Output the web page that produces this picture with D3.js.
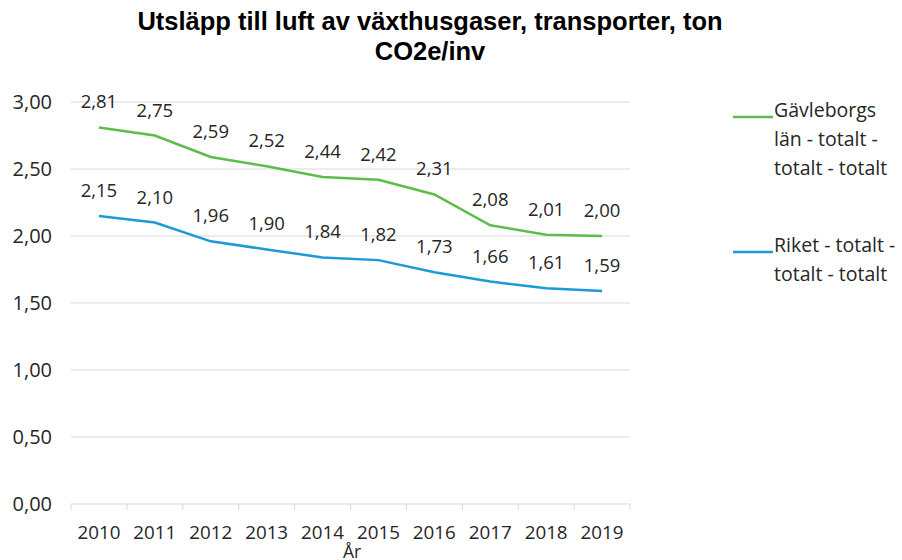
<!DOCTYPE html>
<html>
<head>
<meta charset="utf-8">
<script src="https://cdn.jsdelivr.net/npm/d3@7"></script>
<style>
  body { margin: 0; background: #fff; }
  text { font-family: "Open Sans", sans-serif; fill: #262626; }
</style>
</head>
<body>
<div id="chart"></div>
<script>
const years = ["2010", "2011", "2012", "2013", "2014", "2015", "2016", "2017", "2018", "2019"];
const gavleborg = [2.81, 2.75, 2.59, 2.52, 2.44, 2.42, 2.31, 2.08, 2.01, 2.00];
const riket = [2.15, 2.10, 1.96, 1.90, 1.84, 1.82, 1.73, 1.66, 1.61, 1.59];
const yTicks = [0, 0.5, 1, 1.5, 2, 2.5, 3];
const seriesNames = [
  ["Gävleborgs", "län - totalt -", "totalt - totalt"],
  ["Riket - totalt -", "totalt - totalt"]
];
const colors = ["#5cbd4a", "#1c9ad6"];

const W = 902, H = 560;
const margin = { top: 102, left: 71, right: 272, bottom: 56 };
const width = W - margin.left - margin.right;
const height = H - margin.top - margin.bottom;

const svg = d3.select("#chart").append("svg")
  .attr("width", W).attr("height", H);

// title
svg.append("text")
  .attr("x", 430).attr("y", 30)
  .attr("text-anchor", "middle")
  .style("font-family", "'Liberation Sans', Arial, sans-serif")
  .style("font-weight", "bold").style("font-size", "25.5px").style("fill", "#000")
  .selectAll("tspan")
  .data(["Utsläpp till luft av växthusgaser, transporter, ton", "CO2e/inv"])
  .enter().append("tspan")
  .attr("x", 430).attr("dy", (d, i) => i ? 30 : 0)
  .text(d => d);

const g = svg.append("g")
  .attr("transform", "translate(" + margin.left + "," + margin.top + ")");

const x = d3.scaleBand().domain(years).range([0, width]);
const y = d3.scaleLinear().domain([0, 3]).range([height, 0]);
const fmt = v => d3.format(".2f")(v).replace(".", ",");

// grid
g.selectAll(".grid")
  .data(yTicks.filter(d => d > 0))
  .enter().append("line")
  .attr("x1", 0).attr("x2", width)
  .attr("y1", d => y(d)).attr("y2", d => y(d))
  .attr("stroke", "#d9d9d9").attr("stroke-width", 1);

// y axis labels
g.selectAll(".ylab")
  .data(yTicks)
  .enter().append("text")
  .attr("x", -19).attr("y", d => y(d))
  .attr("dy", "0.35em")
  .attr("text-anchor", "end")
  .style("font-size", "20px")
  .text(fmt);

// x axis
const xAxis = g.append("g")
  .attr("transform", "translate(0," + height + ")");
xAxis.append("line")
  .attr("x1", 0).attr("x2", width)
  .attr("stroke", "#d9d9d9");
xAxis.selectAll(".tick")
  .data(years.concat(["end"]))
  .enter().append("line")
  .attr("x1", (d, i) => i * x.bandwidth()).attr("x2", (d, i) => i * x.bandwidth())
  .attr("y1", 0).attr("y2", 6)
  .attr("stroke", "#d9d9d9");
xAxis.selectAll(".xlab")
  .data(years)
  .enter().append("text")
  .attr("x", d => x(d) + x.bandwidth() / 2)
  .attr("y", 35)
  .attr("text-anchor", "middle")
  .style("font-size", "18.8px")
  .text(d => d);

// axis title, sits tight under the year labels like the original
svg.append("text")
  .attr("x", 352).attr("y", 558)
  .attr("text-anchor", "middle")
  .style("font-size", "17.5px")
  .text("År");

// lines
const line = d3.line()
  .x((d, i) => x(years[i]) + x.bandwidth() / 2)
  .y(d => y(d));

[gavleborg, riket].forEach((s, k) => {
  g.append("path")
    .datum(s)
    .attr("fill", "none")
    .attr("stroke", colors[k])
    .attr("stroke-width", 2.5)
    .attr("d", line);
  g.selectAll(".lab" + k)
    .data(s)
    .enter().append("text")
    .attr("x", (d, i) => x(years[i]) + x.bandwidth() / 2)
    .attr("y", d => y(d) - 19)
    .attr("text-anchor", "middle")
    .style("font-size", "18.5px")
    .text(fmt);
});

// legend
const legendY = [117, 252];
seriesNames.forEach((names, k) => {
  svg.append("line")
    .attr("x1", 733).attr("x2", 773)
    .attr("y1", legendY[k]).attr("y2", legendY[k])
    .attr("stroke", colors[k]).attr("stroke-width", 2.5);
  svg.append("text")
    .attr("x", 774).attr("y", legendY[k])
    .attr("dy", "0.35em")
    .style("font-size", "19.5px")
    .selectAll("tspan")
    .data(names)
    .enter().append("tspan")
    .attr("x", 774).attr("dy", (d, i) => i ? 29 : 0)
    .text(d => d);
});
</script>
</body>
</html>
